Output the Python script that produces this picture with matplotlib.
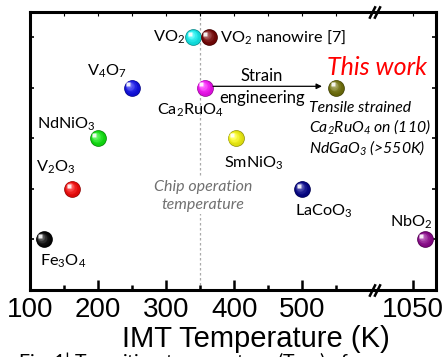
import numpy as np
import matplotlib
matplotlib.use('Agg')
import matplotlib.pyplot as plt
from matplotlib.colors import to_rgb
from matplotlib.transforms import offset_copy

plt.rcParams['font.family'] = ['Lato', 'DejaVu Sans']
plt.rcParams['mathtext.default'] = 'regular'

# IMT temperature (K) and row of each material
names = ['Fe3O4', 'V2O3', 'NdNiO3', 'V4O7', 'VO2', 'VO2 nanowire', 'Ca2RuO4',
         'SmNiO3', 'LaCoO3', 'This work', 'NbO2']
temps = [120, 162, 200, 250, 340, 363, 357, 402, 500, 550, 1068]
rows = [1, 2, 3, 4, 5, 5, 4, 3, 2, 4, 1]
colors = ['#050505', '#ff0a0a', '#10ee10', '#1010f0', '#10f5f5', '#7a0505',
          '#ff10ff', '#ffff10', '#050590', '#75750a', '#900590']

labels = ['Fe$_3$O$_4$', 'V$_2$O$_3$', 'NdNiO$_3$', 'V$_4$O$_7$', 'VO$_2$',
          'VO$_2$ nanowire [7]', 'Ca$_2$RuO$_4$', 'SmNiO$_3$', 'LaCoO$_3$',
          None, 'NbO$_2$']
# label anchor (x, y, ha)
label_pos = [(148, 0.57, 'center'), (138, 2.42, 'center'), (154, 3.27, 'center'),
             (213, 4.32, 'center'), (328, 5.0, 'right'), (379, 5.0, 'left'),
             (287, 3.56, 'left'), (429, 2.51, 'center'), (532, 1.56, 'center'),
             None, (1048, 1.33, 'center')]

major_ticks = [100, 200, 300, 400, 500]
minor_ticks = [150, 250, 350, 450, 550]
chip_temp = 350

W, H = 447, 357
fig = plt.figure(figsize=(W / 100, H / 100), dpi=100)
L, R, B, T, brk = 30 / W, 436 / W, (H - 290) / H, (H - 12) / H, 375 / W
ax1 = fig.add_axes([L, B, brk - L, T - B])
ax2 = fig.add_axes([brk, B, R - brk, T - B], sharey=ax1)
ax2.patch.set_visible(False)

ax1.set_xlim(100, 607)
ax2.set_xlim(994, 1084)
ax1.set_ylim(0, 5.5)
ax1.set_yticks([1, 2, 3, 4, 5])

for ax in (ax1, ax2):
    for s in ax.spines.values():
        s.set_linewidth(2.2)
ax1.spines['right'].set_visible(False)
ax2.spines['left'].set_visible(False)

ax1.set_xticks(major_ticks)
ax1.set_xticks(minor_ticks, minor=True)
ax2.set_xticks([1050])
ax2.set_xticks([], minor=True)
for ax in (ax1, ax2):
    ax.tick_params(axis='x', which='major', direction='in', length=7, width=1.8,
                   labelsize=20, labelfontfamily='Liberation Sans', pad=5)
    ax.tick_params(axis='x', which='minor', direction='in', length=3.5, width=1.8)
    ax.tick_params(axis='y', direction='in', length=3, width=1.2, labelleft=False)
ax2.tick_params(axis='y', left=False, right=True, labelright=False)

for ax, maj, mnr in ((ax1, major_ticks, minor_ticks), (ax2, [1050], [])):
    sec = ax.secondary_xaxis('top')
    sec.set_xticks(maj)
    sec.set_xticks(mnr, minor=True)
    sec.tick_params(which='both', direction='in', length=3, width=0.8, labeltop=False)
    for s in sec.spines.values():
        s.set_visible(False)

# break marks
for y in (0, 1):
    for dx in (-3.0 / 61, 2.0 / 61):
        ax2.plot([dx], [y], transform=ax2.transAxes, marker=[(-0.5, -1), (0.5, 1)],
                 markersize=9, mew=1.8, color='k', clip_on=False, zorder=10)

# chip operation temperature
ax1.axvline(chip_temp, color='#aaaaaa', ls=(0, (2, 2)), lw=0.9, zorder=0)
ax1.text(chip_temp + 4, 1.86, 'Chip operation\ntemperature', ha='center', va='center',
         fontsize=11.5, style='italic', color='#707070', linespacing=1.3,
         bbox=dict(facecolor='white', edgecolor='none', pad=2), zorder=1)


def ball(ax, x, y, c, d=12.0):
    base = np.array(to_rgb(c))
    ax.plot(x, y, 'o', ms=d, mfc=base * 0.55, mec='none', zorder=3)
    n = 7
    for k in range(n):
        f = k / (n - 1)
        off = offset_copy(ax.transData, fig=fig, x=-0.16 * d * f, y=0.16 * d * f,
                          units='points')
        col = base * (0.85 + 0.15 * f) + (1 - base * (0.85 + 0.15 * f)) * 0.35 * f ** 2
        ax.plot(x, y, 'o', ms=d * (0.92 - 0.55 * f), mfc=np.clip(col, 0, 1),
                mec='none', transform=off, zorder=3)
    off = offset_copy(ax.transData, fig=fig, x=-0.22 * d, y=0.2 * d, units='points')
    ax.plot(x, y, 's', ms=d * 0.22, mfc='white', mec='none', alpha=0.9,
            transform=off, zorder=4)


for t, r, c, lab, pos in zip(temps, rows, colors, labels, label_pos):
    ax = ax1 if t < 900 else ax2
    ball(ax, t, r, c)
    if lab is not None:
        ax.text(pos[0], pos[1], lab, ha=pos[2], va='center', fontsize=11.7,
                clip_on=False, zorder=5)

ax1.annotate('', xy=(529, 4.03), xytext=(369, 4.03),
             arrowprops=dict(arrowstyle='-|>', color='k', lw=0.9, mutation_scale=8,
                             shrinkA=0, shrinkB=0))
ax1.text(440, 4.24, 'Strain', ha='center', va='center', fontsize=12)
ax1.text(441, 3.8, 'engineering', ha='center', va='center', fontsize=12)

ax1.text(537, 4.4, 'This work', ha='left', va='center', fontsize=18,
         style='italic', color='#ff0000', clip_on=False, zorder=6)
ax1.text(510, 3.18, 'Tensile strained\nCa$_2$RuO$_4$ on (110)\nNdGaO$_3$ (>550K)',
         ha='left', va='center', fontsize=11.3, style='italic', linespacing=1.15,
         clip_on=False, zorder=6)

fig.text(256 / W, (H - 347) / H, 'IMT Temperature (K)', ha='center', va='baseline',
         fontsize=21, family='Liberation Sans')
fig.text(18 / W, (H - 368) / H, 'Fig. 1| Transition temperature (T$_{IMT}$) of',
         ha='left', va='baseline', fontsize=14)

fig.savefig('out.png', dpi=100)
